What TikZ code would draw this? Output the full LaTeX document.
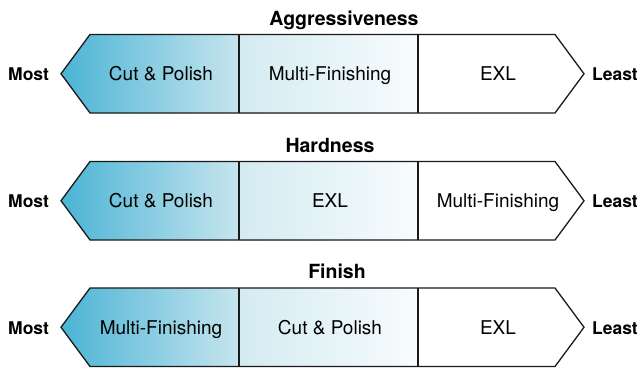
\documentclass[tikz,border=0pt]{standalone}
\usepackage{fontspec}
\setmainfont{TeX Gyre Heros}
\definecolor{cyanL}{HTML}{4BB4D5}
\definecolor{cyanM}{HTML}{C6E5EE}
\definecolor{paleL}{HTML}{D4EBF2}
\definecolor{paleR}{HTML}{F8FCFD}
\definecolor{edge}{HTML}{1A1A1A}
\newcommand\arrowrow[7]{%
  % #1 prefix, #2 top y, #3 title, #4 title x, #5 left text, #6 middle text, #7 right text
  \coordinate (#1-tip-l) at (61,{#2+39.25});
  \coordinate (#1-sh-tl) at (90,#2);
  \coordinate (#1-sh-bl) at (90,{#2+78.5});
  \coordinate (#1-d1-t) at (239,#2);
  \coordinate (#1-d1-b) at (239,{#2+78.5});
  \coordinate (#1-d2-t) at (418,#2);
  \coordinate (#1-d2-b) at (418,{#2+78.5});
  \coordinate (#1-sh-tr) at (555,#2);
  \coordinate (#1-sh-br) at (555,{#2+78.5});
  \coordinate (#1-tip-r) at (584,{#2+39.25});
  \shade[left color=cyanL, right color=cyanM]
    (#1-tip-l) -- (#1-sh-tl) -- (#1-d1-t) -- (#1-d1-b) -- (#1-sh-bl) -- cycle;
  \shade[left color=paleL, right color=paleR]
    (#1-d1-t) rectangle (#1-d2-b);
  \draw[outline] (#1-tip-l) -- (#1-sh-tl) -- (#1-sh-tr) -- (#1-tip-r) -- (#1-sh-br) -- (#1-sh-bl) -- cycle;
  \draw[outline] (#1-d1-t) -- (#1-d1-b);
  \draw[outline] (#1-d2-t) -- (#1-d2-b);
  \node[titletext] (#1-title) at (#4,{#2-9.5}) {#3};
  \node[sidetext, anchor=base west] (#1-most) at (8,{#2+46}) {Most};
  \node[sidetext, anchor=base east] (#1-least) at (638,{#2+46}) {Least};
  \node[segtext] (#1-a) at (161,{#2+46}) {#5};
  \node[segtext] (#1-b) at (330,{#2+46}) {#6};
  \node[segtext] (#1-c) at (498,{#2+46}) {#7};
}
\begin{document}
\begin{tikzpicture}[x=1pt,y=-1pt,
  outline/.style={draw=edge, line width=1.3pt, line join=miter},
  segtext/.style={font=\fontsize{19}{22}\selectfont, anchor=base, inner sep=0pt},
  sidetext/.style={font=\fontsize{17.5}{20}\selectfont\bfseries, inner sep=0pt},
  titletext/.style={font=\fontsize{19.5}{22}\selectfont\bfseries, anchor=base, inner sep=0pt}]
\useasboundingbox (0,0) rectangle (639,367);
\arrowrow{r1}{34.5}{Aggressiveness}{344}{Cut \& Polish}{Multi-Finishing}{EXL}
\arrowrow{r2}{161.5}{Hardness}{330}{Cut \& Polish}{EXL}{Multi-Finishing}
\arrowrow{r3}{288}{Finish}{337}{Multi-Finishing}{Cut \& Polish}{EXL}
\end{tikzpicture}
\end{document}
